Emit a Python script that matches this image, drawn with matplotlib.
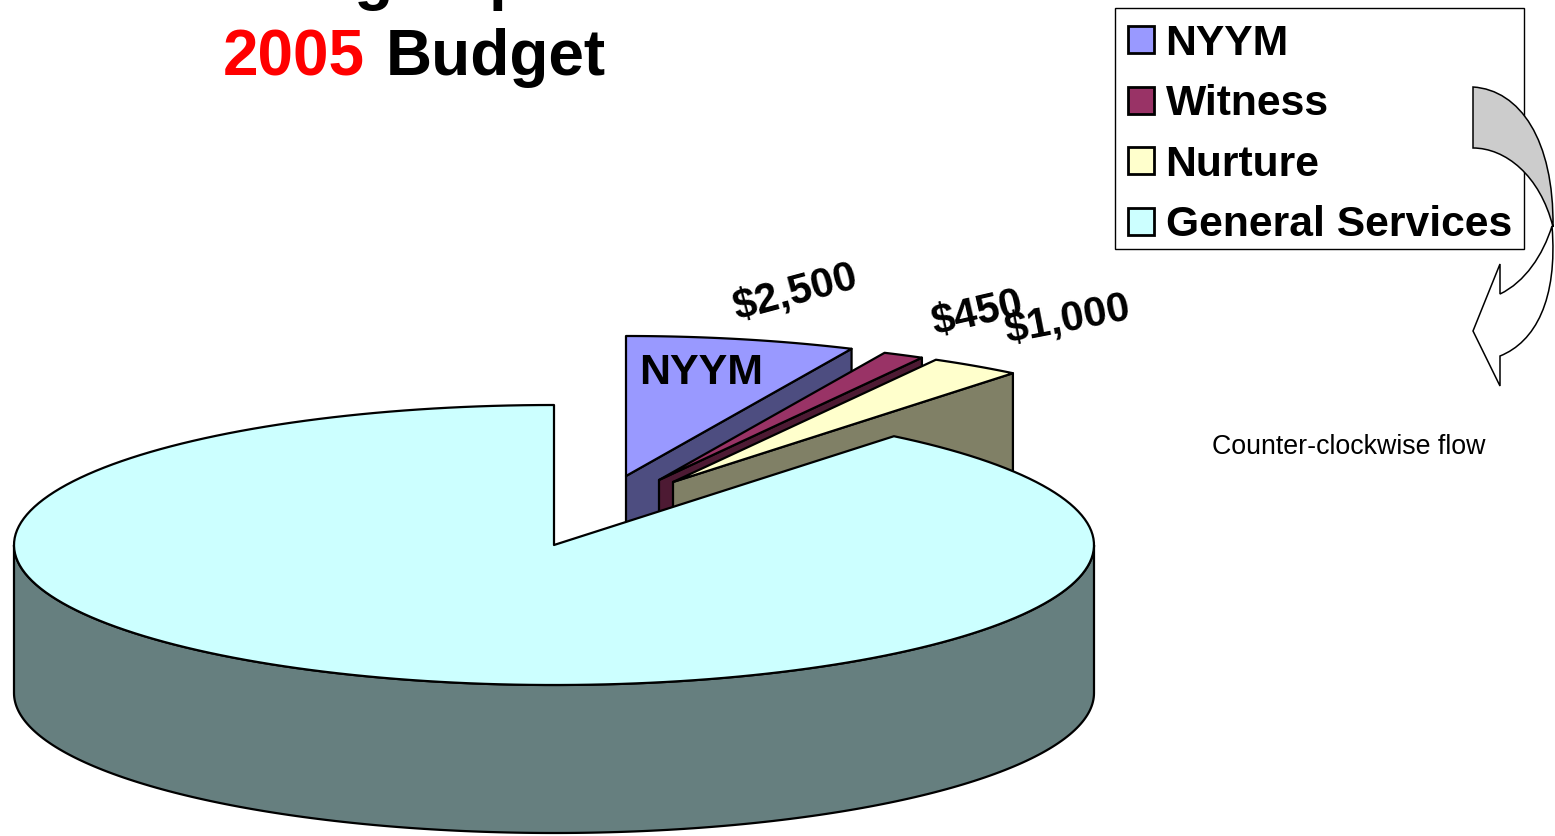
import numpy as np
import matplotlib
matplotlib.use("Agg")
import matplotlib.pyplot as plt
from matplotlib.patches import PathPatch, Patch, Rectangle
from matplotlib.path import Path

plt.rcParams['font.family'] = ['Liberation Sans', 'DejaVu Sans']

# data
categories = ["NYYM", "Witness", "Nurture", "General Services"]
values = [2500, 450, 1000, 32500]
show_value_label = [True, True, True, False]

# styles
top_colors = ["#9999FF", "#993366", "#FFFFCC", "#CCFFFF"]
wall_colors = ["#4D4D80", "#4D1A33", "#808066", "#667F7F"]

# layout (pixels)
RX, RY, DEPTH = 540, 140, 148
centers = [(626, 476), (659, 480), (673, 482), (554, 545)]

fig = plt.figure(figsize=(15.55, 8.36), dpi=100, facecolor="white")
ax = fig.add_axes([0, 0, 1, 1])
ax.set_xlim(0, 1555)
ax.set_ylim(836, 0)
ax.axis("off")


def rim(c, deg):
    t = np.radians(deg)
    return c[0] + RX * np.cos(t), c[1] - RY * np.sin(t)


LW = 1.6
total = sum(values)
angle = 90.0
for i, v in enumerate(values):
    sweep = v / total * 360
    a0, a1 = angle, angle - sweep
    c = centers[i]
    arc_deg = np.linspace(a0, a1, 200)
    xa, ya = rim(c, arc_deg)
    if i < 3:
        ex, ey = rim(c, a1)
        ax.fill([c[0], ex, ex, c[0]], [c[1], ey, ey + DEPTH, c[1] + DEPTH],
                facecolor=wall_colors[i], edgecolor="black", lw=LW, zorder=2 + i * 2,
                joinstyle="round")
    else:
        wd = np.linspace(180, 360, 200)
        xw, yw = rim(c, wd)
        ax.fill(np.r_[xw, xw[::-1]], np.r_[yw, yw[::-1] + DEPTH],
                facecolor=wall_colors[i], edgecolor="black", lw=LW, zorder=2 + i * 2,
                joinstyle="round")
    ax.fill(np.r_[c[0], xa], np.r_[c[1], ya], facecolor=top_colors[i],
            edgecolor="black", lw=LW, zorder=3 + i * 2, joinstyle="round")
    angle = a1

# value labels
label_pos = [(795, 293, 15), (977, 314, 13), (1068, 320, 11)]
for v, show, (lx, ly, rot) in zip(values, show_value_label, label_pos):
    if show:
        ax.text(lx, ly, f"${v:,}", fontsize=30, fontweight="bold", rotation=rot,
                ha="center", va="center", color="black", zorder=20,
                rotation_mode="anchor")

ax.text(639, 384, categories[0], fontsize=31, fontweight="bold", ha="left",
        va="baseline", color="black", zorder=20)

# title (first line runs off the top of the picture)
ax.text(152, -2, "Meeting Expenses", fontsize=46, fontweight="bold", ha="left",
        va="baseline", color="black")
ax.text(223, 75, "2005", fontsize=46, fontweight="bold", ha="left", va="baseline", color="#FF0000")
ax.text(386, 75, "Budget", fontsize=46, fontweight="bold", ha="left", va="baseline", color="black")

# legend
ax.add_patch(Rectangle((1115, 8), 409, 241, facecolor="white", edgecolor="black",
                       lw=1.0, zorder=29))
handles = [Patch(facecolor=fc, edgecolor="black", lw=2) for fc in top_colors]
leg = ax.legend(handles, categories, loc="upper left",
                bbox_to_anchor=(1116.5 / 1555, 1 - 12 / 836), borderaxespad=0,
                prop={"weight": "bold", "size": 30.7}, frameon=False,
                handlelength=0.6, handleheight=0.6,
                handletextpad=0.27, labelspacing=0.48, borderpad=0.28)
leg.set_zorder(30)

# curved arrow
white_path = Path(
    [(1552, 226), (1543, 255), (1525, 282), (1500, 294), (1500, 264), (1473, 331),
     (1500, 386), (1500, 356), (1535, 342), (1558, 300), (1552, 226), (1552, 226)],
    [Path.MOVETO, Path.CURVE4, Path.CURVE4, Path.CURVE4, Path.LINETO, Path.LINETO,
     Path.LINETO, Path.LINETO, Path.CURVE4, Path.CURVE4, Path.CURVE4, Path.CLOSEPOLY])
gray_path = Path(
    [(1473, 87), (1520, 90), (1554, 140), (1553, 227), (1540, 175), (1505, 148),
     (1473, 148), (1473, 87)],
    [Path.MOVETO, Path.CURVE4, Path.CURVE4, Path.CURVE4, Path.CURVE4, Path.CURVE4,
     Path.CURVE4, Path.CLOSEPOLY])
ax.add_patch(PathPatch(white_path, facecolor="white", edgecolor="black", lw=1.1, zorder=31))
ax.add_patch(PathPatch(gray_path, facecolor="#CCCCCC", edgecolor="black", lw=1.1, zorder=32))

ax.text(1349, 446.5, "Counter-clockwise flow", fontsize=19.3, ha="center", va="center",
        color="black", zorder=20)

fig.savefig("out.png", dpi=100, facecolor="white")
